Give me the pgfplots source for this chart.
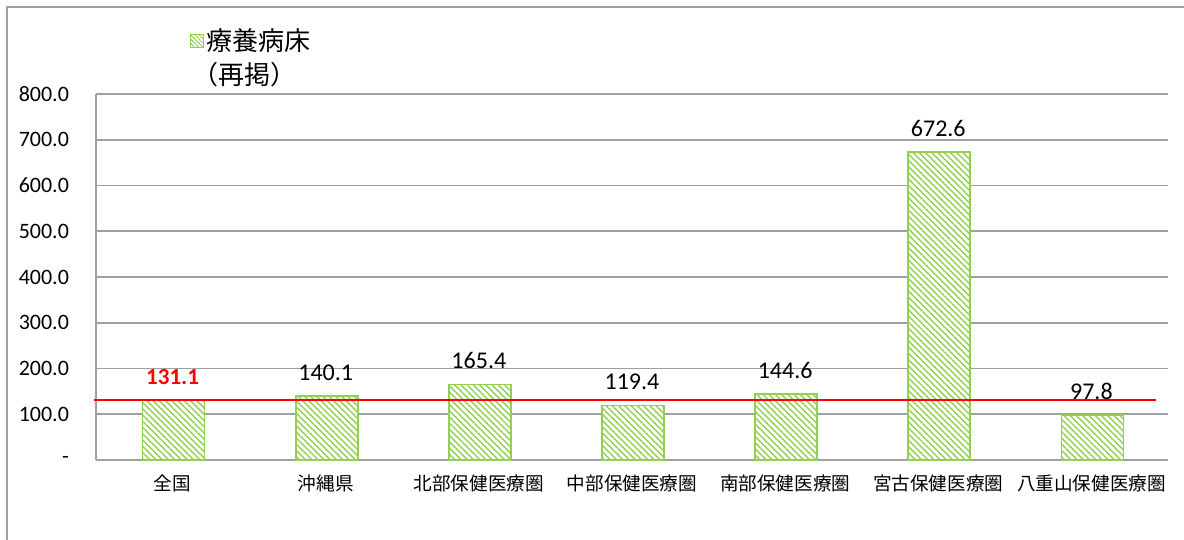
\documentclass[border=0pt]{standalone}
\usepackage{pgfplots}
\pgfplotsset{compat=1.18}
\usetikzlibrary{patterns.meta}
\usepackage{fontspec}
\setmainfont{Carlito}
\newfontfamily\cjk{Noto Sans CJK JP}
\definecolor{barg}{HTML}{92D050}
\definecolor{gridc}{HTML}{A0A0A0}
\begin{document}
\begin{tikzpicture}
\useasboundingbox (0,0) rectangle (592pt,270pt);
\fill[white] (0,0) rectangle (592pt,270pt);
\draw[gridc, line width=1pt] (3.5pt,0) -- (3.5pt,266.5pt) -- (592pt,266.5pt);
\begin{axis}[
    at={(48pt,40pt)}, anchor=south west,
    scale only axis,
    width=536pt, height=183pt,
    xmin=-0.5, xmax=6.5,
    ymin=0, ymax=800,
    xtick={0,...,6},
    xticklabels={全国,沖縄県,北部保健医療圏,中部保健医療圏,南部保健医療圏,宮古保健医療圏,八重山保健医療圏},
    xticklabel style={font=\cjk\fontsize{9.3pt}{11pt}\selectfont, yshift=-4pt},
    ytick={0,100,...,800},
    yticklabels={-,100.0,200.0,300.0,400.0,500.0,600.0,700.0,800.0},
    yticklabel style={font=\fontsize{11pt}{13pt}\selectfont, xshift=-10pt},
    /pgf/number format/assume math mode=true,
    axis x line=bottom, axis y line=left,
    axis line style={gridc, line width=1pt, -},
    major tick length=0pt,
    ymajorgrids, grid style={gridc, line width=0.8pt},
    clip=false,
    nodes near coords,
    nodes near coords style={font=\fontsize{12pt}{14pt}\selectfont, anchor=south, yshift=4pt,
        /pgf/number format/fixed, /pgf/number format/precision=1, /pgf/number format/fixed zerofill},
]
\addplot[ybar, bar width=31pt, bar shift=0.5pt, draw=barg, line width=0.8pt, fill=white,
    postaction={pattern={Lines[angle=-45,distance=2.2pt,line width=0.7pt]}, pattern color=barg},
    nodes near coords style={text=red, font=\bfseries\fontsize{11.5pt}{13pt}\selectfont}]
    coordinates {(0,131.1)};
\addplot[ybar, bar width=31pt, bar shift=0.5pt, draw=barg, line width=0.8pt, fill=white,
    postaction={pattern={Lines[angle=-45,distance=2.2pt,line width=0.7pt]}, pattern color=barg}]
    coordinates {(1,140.1) (2,165.4) (3,119.4) (4,144.6) (5,672.6) (6,97.8)};
\addplot[red, line width=1pt, nodes near coords=, forget plot] coordinates {(-0.51,131.1) (6.42,131.1)};
\end{axis}
\draw[barg, line width=0.5pt, fill=white, postaction={pattern={Lines[angle=-45,distance=1.5pt,line width=0.5pt]}, pattern color=barg}]
    (95.2pt,246.2pt) rectangle (101.8pt,252.8pt);
\node[anchor=west, inner sep=0pt, font=\cjk\fontsize{13pt}{15pt}\selectfont] at (103pt,249.5pt) {療養病床};
\node[anchor=west, inner sep=0pt, font=\cjk\fontsize{13pt}{15pt}\selectfont] at (96pt,232.5pt) {（再掲）};
\end{tikzpicture}
\end{document}
